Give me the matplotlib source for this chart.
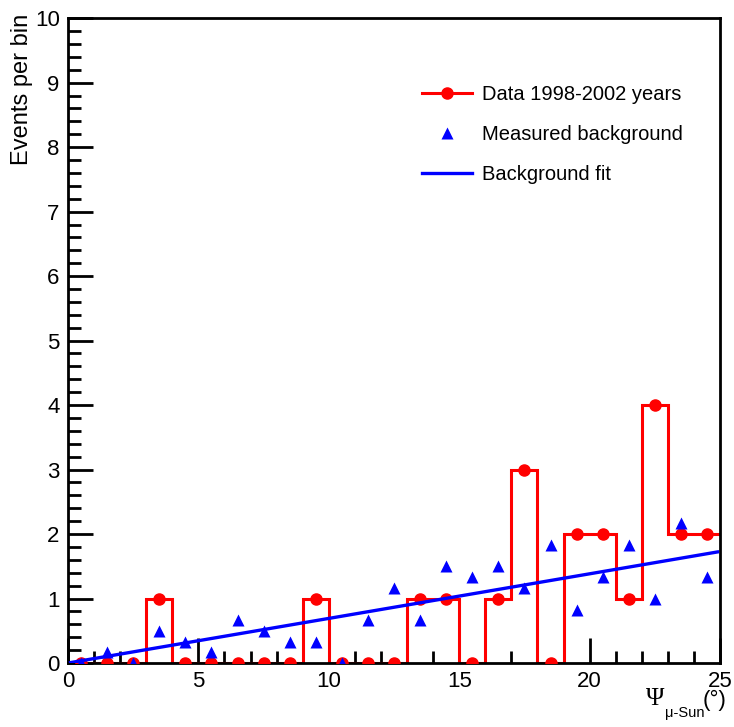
import numpy as np
import matplotlib.pyplot as plt
from matplotlib.ticker import MultipleLocator

plt.rcParams['font.family'] = ['Liberation Sans', 'DejaVu Sans']

# bins of 1 degree from 0 to 25
edges = np.arange(0, 26, 1)
centers = edges[:-1] + 0.5

# observed events per bin
data = [0, 0, 0, 1, 0, 0, 0, 0, 0, 1, 0, 0, 0, 1, 1, 0, 1, 3, 0, 2, 2, 1, 4, 2, 2]

# measured background per bin
bkg = [0.0, 0.17, 0.0, 0.5, 0.33, 0.17, 0.67, 0.5, 0.33, 0.33, 0.0, 0.67, 1.17,
       0.67, 1.5, 1.33, 1.5, 1.17, 1.83, 0.83, 1.33, 1.83, 1.0, 2.17, 1.33]

# linear fit through the origin
x = np.array(centers)
y = np.array(bkg)
slope = np.sum(x * y) / np.sum(x * x)
xfit = np.linspace(0.1, 24.9, 50)

W, H = 734, 727
fig = plt.figure(figsize=(W / 100, H / 100), dpi=100)
ax = fig.add_axes([0.0926, 0.088, 0.8884, 0.887])

ax.stairs(data, edges, baseline=None, color='#ff0000', lw=2.2, zorder=2)
ax.plot(centers, data, 'o', color='#ff0000', ms=8, zorder=3)
ax.plot(xfit, slope * xfit, color='#0000ff', lw=2.4, zorder=4)
ax.plot(centers, bkg, '^', color='#0000ff', ms=9, mec='none', zorder=5)

# legend handles
h1, = ax.plot([], [], '-o', color='#ff0000', lw=2.2, ms=8)
h2, = ax.plot([], [], '^', color='#0000ff', ms=9, mec='none')
h3, = ax.plot([], [], '-', color='#0000ff', lw=2.4)
ax.legend([h1, h2, h3], ['Data 1998-2002 years', 'Measured background', 'Background fit'],
          loc='upper left', bbox_to_anchor=(0.515, 0.925), frameon=False,
          fontsize=14.5, handlelength=2.5, labelspacing=1.05, handletextpad=0.5)

ax.set_xlim(0, 25)
ax.set_ylim(0, 10)
ax.xaxis.set_major_locator(MultipleLocator(5))
ax.xaxis.set_minor_locator(MultipleLocator(1))
ax.yaxis.set_major_locator(MultipleLocator(1))
ax.yaxis.set_minor_locator(MultipleLocator(0.2))
ax.tick_params(which='both', direction='in', width=2, labelsize=16)
ax.tick_params(which='major', length=18, pad=6)
ax.tick_params(which='minor', length=9)
for s in ax.spines.values():
    s.set_linewidth(2)

fig.text(22 / W, 1 - 14 / H, 'Events per bin', rotation=90, ha='center', va='top', fontsize=17)

# x axis title: Psi with subscript, placed piece by piece
fig.text(646 / W, 1 - 705 / H, 'Ψ', family=['Liberation Serif', 'DejaVu Serif'],
         fontsize=18, ha='left', va='baseline')
fig.text(665 / W, 1 - 717 / H, 'μ-Sun', fontsize=10.5, ha='left', va='baseline')
fig.text(703 / W, 1 - 706 / H, '(°)', fontsize=16, ha='left', va='baseline')

fig.savefig('out.png', dpi=100)
